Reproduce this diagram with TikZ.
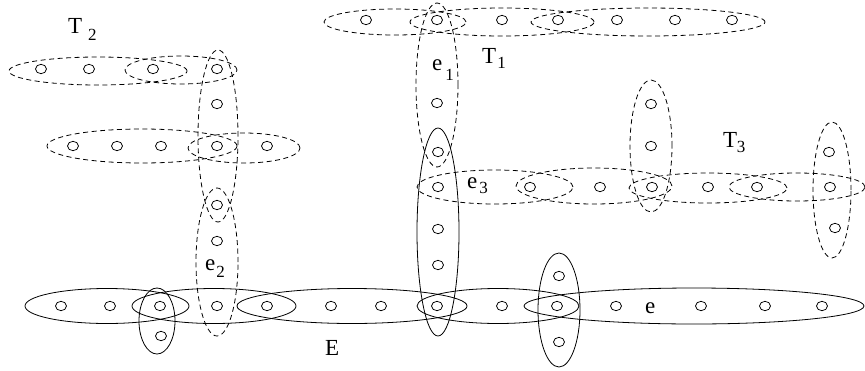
\documentclass[tikz,border=0pt]{standalone}
\usepackage{fontspec}
\setmainfont{Liberation Serif}
\usetikzlibrary{shapes.geometric}
\newcommand{\lsub}[2]{\raisebox{-#1pt}{\fontsize{17}{17}\selectfont #2}}
\tikzset{
  v/.style={draw, ellipse, minimum width=11pt, minimum height=9.4pt, inner sep=0pt, line width=0.75pt},
  hedge/.style={line width=0.8pt},
  dedge/.style={line width=0.8pt, dash pattern=on 5pt off 3.5pt},
  lbl/.style={inner sep=0pt, anchor=base west, font=\fontsize{23}{23}\selectfont}
}
\begin{document}
\begin{tikzpicture}[x=1pt, y=-1pt]
\useasboundingbox (0,0) rectangle (865,370);

% ---------------- vertices ----------------
% T1 row
\foreach \x [count=\i] in {366,437,502,558,617,675,732} \node[v] (ta\i) at (\x,20) {};
% e1 column
\node[v] (ea1) at (437,103) {};
% central solid column
\foreach \y [count=\i] in {152,187,229,265} \node[v] (c\i) at (438,\y) {};
% T3 row
\foreach \x [count=\i] in {530,600,652,708,757,830} \node[v] (tc\i) at (\x,187) {};
\node[v] (tp1) at (651,104) {};
\node[v] (tp2) at (651,146) {};
\node[v] (tq1) at (829,152) {};
\node[v] (tq2) at (835,228) {};
% T2 rows
\foreach \x [count=\i] in {41,89,153,217} \node[v] (tb\i) at (\x,69) {};
\node[v] (tv1) at (217,104) {};
\foreach \x [count=\i] in {73,117,161,217,267} \node[v] (td\i) at (\x,146) {};
\node[v] (e2a) at (217,205) {};
\node[v] (e2b) at (217,241) {};
% bottom row
\foreach \x [count=\i] in {61,110,160,217,267,331,381,437,502,557,616,701,765,822} \node[v] (b\i) at (\x,306) {};
\node[v] (bx1) at (161,336) {};
\node[v] (by1) at (559,276) {};
\node[v] (by2) at (559,342) {};

% ---------------- solid hyperedges ----------------
\draw[hedge] (107,306) ellipse [x radius=82pt, y radius=17.5pt];
\draw[hedge] (214,306) ellipse [x radius=82pt, y radius=17.5pt];
\draw[hedge] (352,306) ellipse [x radius=115pt, y radius=17.5pt];
\draw[hedge] (498,306) ellipse [x radius=81pt, y radius=17.5pt];
\draw[hedge] (694,306) ellipse [x radius=170pt, y radius=18pt];
\draw[hedge] (157,321) ellipse [x radius=18pt, y radius=33pt];
\draw[hedge] (438,232) ellipse [x radius=21pt, y radius=104pt];
\draw[hedge] (559,310) ellipse [x radius=21pt, y radius=57pt];

% ---------------- dashed hyperedges ----------------
% T1
\draw[dedge] (395,22) ellipse [x radius=71pt, y radius=13pt];
\draw[dedge] (502,22) ellipse [x radius=92pt, y radius=14pt];
\draw[dedge] (648,22) ellipse [x radius=117pt, y radius=14pt];
\draw[dedge] (437,85) ellipse [x radius=21pt, y radius=82pt];
% T3
\draw[dedge] (495,187) ellipse [x radius=78pt, y radius=17pt];
\draw[dedge] (594,186) ellipse [x radius=78pt, y radius=18pt];
\draw[dedge] (708,188) ellipse [x radius=79pt, y radius=15pt];
\draw[dedge] (797,187) ellipse [x radius=68pt, y radius=14pt];
\draw[dedge] (651,146) ellipse [x radius=21pt, y radius=66pt];
\draw[dedge] (832,190) ellipse [x radius=19pt, y radius=68pt];
% T2
\draw[dedge] (98,71) ellipse [x radius=89pt, y radius=14pt];
\draw[dedge] (181,70) ellipse [x radius=56pt, y radius=14pt];
\draw[dedge] (218,136) ellipse [x radius=20pt, y radius=86pt];
\draw[dedge] (142,146) ellipse [x radius=95pt, y radius=17pt];
\draw[dedge] (244,148) ellipse [x radius=56pt, y radius=15pt];
\draw[dedge] (217,262) ellipse [x radius=21pt, y radius=74pt];

% ---------------- labels ----------------
\node[lbl] (lT2) at (68,33) {T\hspace{6pt}\lsub{7}{2}};
\node[lbl] (lT1) at (482,63) {T\hspace{1pt}\lsub{5}{1}};
\node[lbl] (lT3) at (723,147) {T\hspace{-0.5pt}\lsub{5}{3}};
\node[lbl] (le1) at (432,70) {e\hspace{3pt}\lsub{10}{1}};
\node[lbl] (le3) at (467,188) {e\hspace{2pt}\lsub{5}{3}};
\node[lbl] (le2) at (205,270) {e\hspace{1pt}\lsub{7}{2}};
\node[lbl] (lE) at (325,355) {E};
\node[lbl] (le) at (645,313) {e};
\end{tikzpicture}
\end{document}
